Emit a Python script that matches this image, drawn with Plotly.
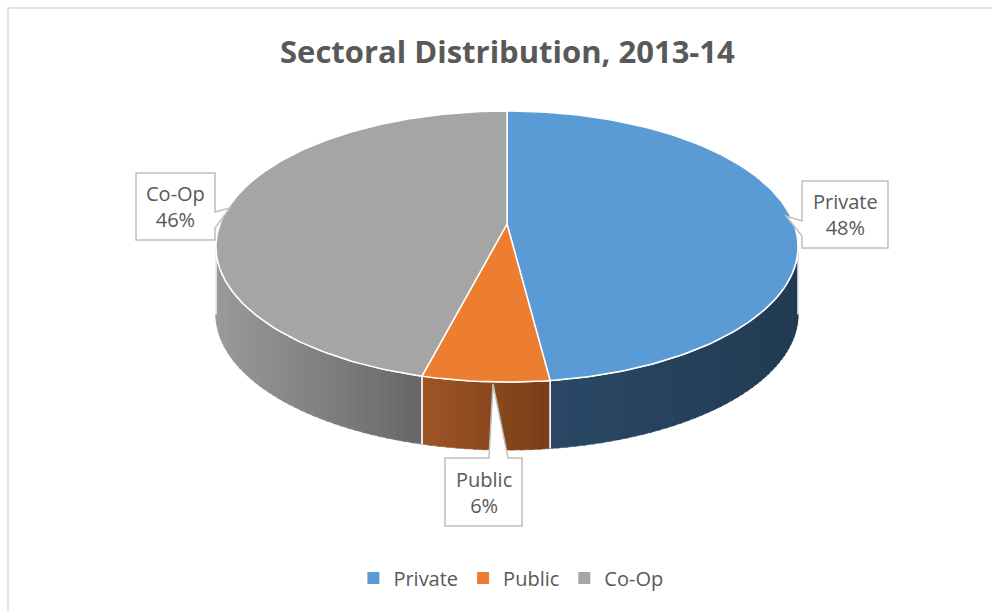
import math
import plotly.graph_objects as go

# ---- data ----
categories = ["Private", "Public", "Co-Op"]
shares = [48, 6, 46]
top_colors = ["#5b9bd5", "#ed7d31", "#a5a5a5"]
side_left_colors = ["#2a4866", "#9d5526", "#9a9a9a"]
side_right_colors = ["#223b53", "#793d17", "#676767"]

# ---- geometry (pixel space) ----
W, H = 992, 611
cx, cy = 507, 224
A, B, P = 287, 131.8, 0.166
DEPTH = 68


def proj(theta_deg, dy=0.0):
    t = math.radians(theta_deg)
    w = 1.0 / (1.0 + P * math.cos(t))
    return cx + A * math.sin(t) * w, cy - B * math.cos(t) * w + dy


def hex2rgb(h):
    h = h.lstrip("#")
    return [int(h[i:i + 2], 16) for i in (0, 2, 4)]


def mix(c1, c2, t):
    a, b = hex2rgb(c1), hex2rgb(c2)
    return "rgb({},{},{})".format(*[round(a[i] + (b[i] - a[i]) * t) for i in range(3)])


vis_lo = math.degrees(math.acos(-P))          # left/right silhouette angles
vis_hi = 360 - vis_lo

fig = go.Figure()

total = sum(shares)
bounds = []
acc = 0.0
for v in shares:
    a = acc / total * 360
    acc += v
    b = acc / total * 360
    bounds.append((a, b))

# ---- sides (with gradient strips) ----
for i, (a, b) in enumerate(bounds):
    lo, hi = max(a, vis_lo), min(b, vis_hi)
    if hi <= lo:
        continue
    n = max(4, int((hi - lo) / 1.5))
    xs_all = [proj(lo + (hi - lo) * k / n)[0] for k in range(n + 1)]
    xmin, xmax = min(xs_all), max(xs_all)
    for k in range(n):
        t0 = lo + (hi - lo) * k / n
        t1 = min(hi, lo + (hi - lo) * (k + 1) / n + 0.4)
        pts_top = [proj(t0 + (t1 - t0) * j / 3) for j in range(4)]
        pts_bot = [proj(t1 - (t1 - t0) * j / 3, DEPTH) for j in range(4)]
        pts = pts_top + pts_bot
        xm = (proj(t0)[0] + proj(t1)[0]) / 2
        f = (xm - xmin) / (xmax - xmin) if xmax > xmin else 0
        col = mix(side_left_colors[i], side_right_colors[i], f)
        fig.add_trace(go.Scatter(
            x=[p[0] for p in pts] + [pts[0][0]], y=[p[1] for p in pts] + [pts[0][1]],
            mode="lines", fill="toself", fillcolor=col, line=dict(width=0.6, color=col),
            hoverinfo="skip", showlegend=False))
    m = 60
    top = [proj(lo + (hi - lo) * j / m) for j in range(m + 1)]
    xs = [proj(lo, DEPTH)[0]] + [p[0] for p in top] + [proj(hi, DEPTH)[0]]
    ys = [proj(lo, DEPTH)[1]] + [p[1] for p in top] + [proj(hi, DEPTH)[1]]
    fig.add_trace(go.Scatter(x=xs, y=ys, mode="lines",
                             line=dict(color="white", width=1.5),
                             hoverinfo="skip", showlegend=False))

# ---- top faces ----
for i, (a, b) in enumerate(bounds):
    m = max(8, int((b - a) / 1))
    arc = [proj(a + (b - a) * j / m) for j in range(m + 1)]
    xs = [cx] + [p[0] for p in arc] + [cx]
    ys = [cy] + [p[1] for p in arc] + [cy]
    fig.add_trace(go.Scatter(x=xs, y=ys, mode="lines", fill="toself",
                             fillcolor=top_colors[i],
                             line=dict(color="white", width=1.5),
                             hoverinfo="skip", showlegend=False))

# ---- legend entries ----
for i, c in enumerate(categories):
    fig.add_trace(go.Scatter(x=[None], y=[None], mode="markers", name=c,
                             marker=dict(symbol="square", size=8, color=top_colors[i])))

# ---- callouts ----
callouts = {
    "Private": dict(box=(802, 181, 888, 248), path_pts=[(802, 221), (786, 216), (802, 236)], side="left"),
    "Public": dict(box=(445, 458, 522, 526), path_pts=[(489, 458), (493, 384), (508, 458)], side="top"),
    "Co-Op": dict(box=(136, 173, 215, 240), path_pts=[(215, 212), (230, 208), (215, 228)], side="right"),
}
shapes = [dict(type="rect", xref="x", yref="y", x0=8, y0=8, x1=1010, y1=630,
               line=dict(color="#d9d9d9", width=1.5), fillcolor="rgba(0,0,0,0)", layer="below")]
annotations = []
for i, c in enumerate(categories):
    co = callouts[c]
    x0, y0, x1, y1 = co["box"]
    p1, tip, p2 = co["path_pts"]
    if co["side"] == "left":
        pts = [(x0, y0), (x1, y0), (x1, y1), (x0, y1), p2, tip, p1]
    elif co["side"] == "right":
        pts = [(x0, y0), (x1, y0), p1, tip, p2, (x1, y1), (x0, y1)]
    else:
        pts = [(x0, y0), p1, tip, p2, (x1, y0), (x1, y1), (x0, y1)]
    path = "M " + " L ".join(f"{x},{y}" for x, y in pts) + " Z"
    shapes.append(dict(type="path", xref="x", yref="y", path=path,
                       fillcolor="white", line=dict(color="#bfbfbf", width=1.5)))
    annotations.append(dict(x=(x0 + x1) / 2, y=(y0 + y1) / 2, xref="x", yref="y",
                            text=f"{c}<br>{shares[i]}%", showarrow=False,
                            font=dict(family="Open Sans", size=20, color="#595959"),
                            align="center"))

fig.update_layout(
    width=W, height=H,
    margin=dict(l=0, r=0, t=0, b=0),
    paper_bgcolor="white", plot_bgcolor="white",
    xaxis=dict(range=[0, W], visible=False, fixedrange=True),
    yaxis=dict(range=[H, 0], visible=False, fixedrange=True),
    shapes=shapes,
    annotations=annotations + [dict(x=507, y=51, xref="x", yref="y", showarrow=False,
                                    text="<b>Sectoral Distribution, 2013-14</b>",
                                    font=dict(family="Open Sans", size=31, color="#595959"))],
    showlegend=True,
    legend=dict(orientation="h", x=0.515, xanchor="center", y=1 - 578 / H, yanchor="middle",
                font=dict(family="Open Sans", size=20, color="#595959"),
                itemsizing="constant", bgcolor="rgba(0,0,0,0)"),
)

fig.write_html("out.html")
